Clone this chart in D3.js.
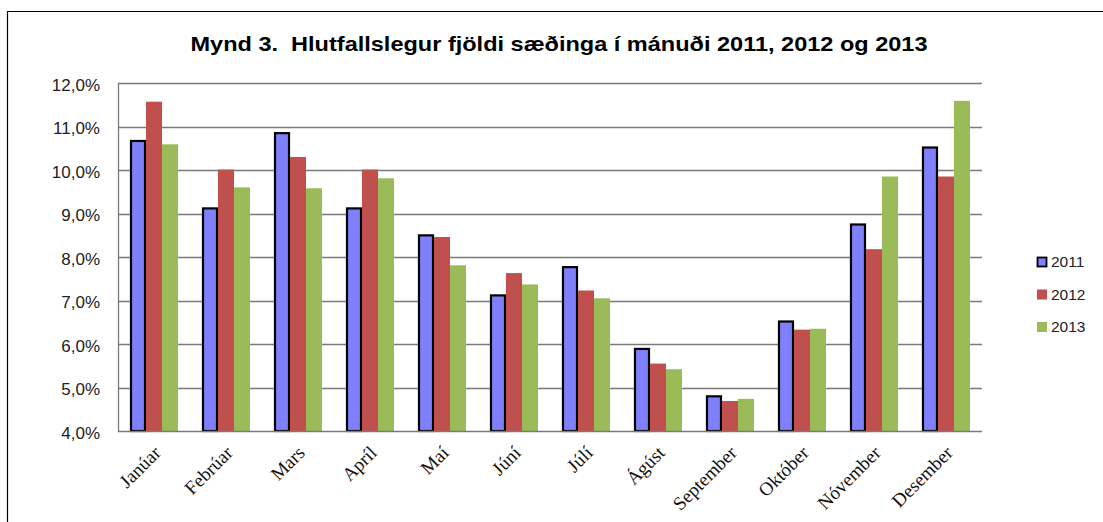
<!DOCTYPE html>
<html><head><meta charset="utf-8">
<script src="https://cdn.jsdelivr.net/npm/d3@7/dist/d3.min.js"></script>
<style>body{margin:0;background:#fff}svg{display:block}</style>
</head><body>
<script>
const months = ["Janúar","Febrúar","Mars","Apríl","Maí","Júní","Júlí","Ágúst","September","Október","Nóvember","Desember"];
const years = ["2011","2012","2013"];
const v2011 = [10.69,9.14,10.87,9.14,8.52,7.14,7.79,5.91,4.82,6.54,8.77,10.54];
const v2012 = [11.57,10.01,10.30,10.01,8.46,7.63,7.23,5.55,4.69,6.33,8.18,9.85];
const v2013 = [10.59,9.60,9.58,9.81,7.81,7.37,7.05,5.42,4.74,6.35,9.85,11.59];
const yTicks = [4,5,6,7,8,9,10,11,12];
const colors = ["#8080FF","#C0504D","#9BBB59"];
const title = "Mynd 3.  Hlutfallslegur fjöldi sæðinga í mánuði 2011, 2012 og 2013";

(function(){
const W = 1103, H = 522;
const svg = d3.select("body").append("svg").attr("width", W).attr("height", H);
svg.append("rect").attr("width", W).attr("height", H).attr("fill", "#fff");
svg.append("path").attr("d", `M7.5,${H+2} V11.5 H${W+2}`).attr("fill","none").attr("stroke","#000").attr("stroke-width",1.2);

const pL = 118, pR = 982, pT = 83, pB = 431;
const x0 = d3.scaleBand().domain(months).range([pL, pR]).paddingInner(0.333).paddingOuter(0.1667);
const x1 = d3.scaleBand().domain(years).range([0, x0.bandwidth()]);
const y = d3.scaleLinear().domain([4, 12]).range([pB, pT]);

svg.append("g").selectAll("line").data(yTicks.slice(1)).join("line")
  .attr("x1", pL).attr("x2", pR)
  .attr("y1", d => Math.round(y(d)) + 0.5).attr("y2", d => Math.round(y(d)) + 0.5)
  .attr("stroke", "#7a7a7a").attr("stroke-width", 1.3);

const yAxis = d3.axisLeft(y).tickValues(yTicks).tickSize(0).tickPadding(18)
  .tickFormat(d => d3.format(".1f")(d).replace(".", ",") + "%");
const gy = svg.append("g").attr("transform", `translate(${pL},0)`).call(yAxis);
gy.select(".domain").remove();
gy.selectAll("text").attr("font-family", "Arial, 'Liberation Sans', sans-serif").attr("font-size", 17).attr("fill", "#222").attr("dy", "0.42em");

const series = [v2011, v2012, v2013];
const data = months.map((m, i) => ({ m, vals: years.map((yr, j) => ({ yr, j, v: series[j][i] })) }));

const groups = svg.append("g").selectAll("g").data(data).join("g")
  .attr("transform", d => `translate(${x0(d.m)},0)`);
groups.selectAll("rect").data(d => d.vals).join("rect")
  .attr("x", d => x1(d.yr) + (d.j === 0 ? 1 : 0))
  .attr("width", d => x1.bandwidth() - (d.j === 0 ? 2 : 0))
  .attr("y", d => y(d.v) + (d.j === 0 ? 1 : 0))
  .attr("height", d => y(4) - y(d.v) - (d.j === 0 ? 1 : 0))
  .attr("fill", d => colors[d.j])
  .attr("stroke", d => d.j === 0 ? "#000" : "none")
  .attr("stroke-width", 2.2);

svg.append("line").attr("x1", pL + 0.5).attr("x2", pL + 0.5).attr("y1", pT).attr("y2", pB + 1)
  .attr("stroke", "#7a7a7a").attr("stroke-width", 1.3);
svg.append("line").attr("x1", pL).attr("x2", pR).attr("y1", pB + 0.5).attr("y2", pB + 0.5)
  .attr("stroke", "#7a7a7a").attr("stroke-width", 1.3);

const xAxis = d3.axisBottom(x0).tickSize(0).tickPadding(0);
const gx = svg.append("g").attr("transform", `translate(0,${pB})`).call(xAxis);
gx.select(".domain").remove();
gx.selectAll(".tick text")
  .attr("font-family", "'Times New Roman', 'Liberation Serif', serif").attr("font-size", 19).attr("fill", "#111")
  .attr("text-anchor", "end").attr("dy", 0).attr("y", 0)
  .attr("transform", "translate(8,23) rotate(-45)");

svg.append("text").attr("x", 190.5).attr("y", 51).text(title)
  .style("white-space", "pre").attr("xml:space", "preserve")
  .attr("font-family", "Arial, 'Liberation Sans', sans-serif").attr("font-weight", "bold").attr("font-size", 21)
  .attr("textLength", 737).attr("lengthAdjust", "spacingAndGlyphs").attr("fill", "#000");

const leg = svg.append("g").selectAll("g").data(years).join("g")
  .attr("transform", (d, i) => `translate(1037,${257 + i * 32.5})`);
leg.append("rect").attr("x", (d,i)=> i===0?0.5:0).attr("y", (d,i)=> i===0?0.5:0)
  .attr("width", (d,i)=> i===0?9:10).attr("height", (d,i)=> i===0?9:10)
  .attr("fill", (d, i) => colors[i]).attr("stroke", (d, i) => i === 0 ? "#000" : "none").attr("stroke-width", 1.8);
leg.append("text").attr("x", 14).attr("y", 10).text(d => d)
  .attr("font-family", "Arial, 'Liberation Sans', sans-serif").attr("font-size", 15.5).attr("fill", "#222");
})();
</script>
</body></html>
